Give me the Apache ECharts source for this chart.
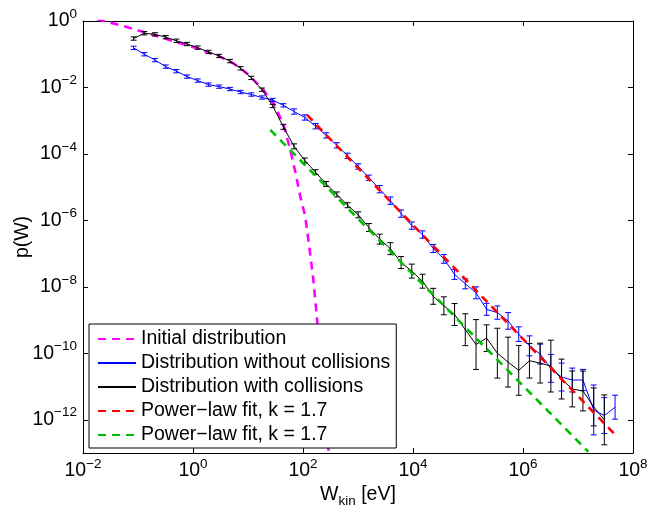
<!DOCTYPE html>
<html><head><meta charset="utf-8">
<script src="https://cdn.jsdelivr.net/npm/echarts@6/dist/echarts.min.js"></script>
<style>html,body{margin:0;padding:0;background:#fff}#c{width:649px;height:508px}</style>
</head><body><div id="c"></div>
<script>
// ---- data (W in eV, p(W) probability density) ----
const energyW = [0.0832, 0.130, 0.204, 0.319, 0.499, 0.780, 1.22, 1.91, 2.99, 4.69, 7.33, 11.5, 17.9, 28.1, 44.0, 68.8, 108, 169, 264, 413, 647, 1010, 1580, 2480, 3880, 6070, 9500, 14900, 23300, 36400, 57000, 89200, 1.40e5, 2.18e5, 3.42e5, 5.35e5, 8.37e5, 1.31e6, 2.05e6, 3.21e6, 5.02e6, 7.87e6, 1.23e7, 1.93e7, 3.01e7, 4.72e7];

const initW = [0.0102, 0.0288, 0.0724, 0.1675, 0.386, 1.10, 3.13, 5.41, 9.6, 18, 29.2, 44.4, 58.7, 72.4, 89.4, 110, 130, 154, 182, 224, 292];
const initP = [1.45, 0.933, 0.617, 0.407, 0.264, 0.157, 0.0832, 0.0532, 0.0265, 0.0094, 0.00334, 7.46e-4, 1.33e-4, 2.9e-5, 5.17e-6, 1.3e-6, 1.64e-7, 1.68e-8, 8.6e-10, 1.69e-11, 1.1e-13];

const noCollP = [0.155, 0.100, 0.0664, 0.0424, 0.0310, 0.0212, 0.0161, 0.0122, 0.0106, 0.00895, 0.00728, 0.00612, 0.00498, 0.00419, 0.00290, 0.00189, 0.00125, 6.82e-4, 3.61e-4, 1.81e-4, 8.77e-5, 4.19e-5, 1.92e-5, 8.68e-6, 3.93e-6, 1.60e-6, 6.98e-7, 3.75e-7, 1.43e-7, 6.92e-8, 2.37e-8, 1.23e-8, 6.61e-9, 2.11e-9, 1.68e-9, 9.44e-10, 3.77e-10, 1.68e-10, 9.46e-11, 3.52e-11, 1.93e-11, 1.57e-11, 1.57e-11, 1.98e-12, 1.34e-12, 2.39e-12];
// error bar half-widths in decades
const noCollErr = [0.05, 0.05, 0.05, 0.05, 0.05, 0.05, 0.05, 0.05, 0.05, 0.05, 0.05, 0.05, 0.05, 0.05, 0.05, 0.08, 0.08, 0.08, 0.08, 0.08, 0.08, 0.08, 0.08, 0.11, 0.11, 0.11, 0.11, 0.11, 0.12, 0.13, 0.15, 0.15, 0.18, 0.18, 0.2, 0.25, 0.22, 0.3, 0.3, 0.42, 0.42, 0.36, 0.32, 0.75, 0.54, 0.36];

const collP = [0.297, 0.428, 0.396, 0.327, 0.255, 0.203, 0.158, 0.117, 0.0887, 0.0623, 0.0377, 0.0194, 0.00859, 0.00277, 6.54e-4, 1.69e-4, 6.34e-5, 2.82e-5, 1.25e-5, 6.03e-6, 2.86e-6, 1.47e-6, 6.08e-7, 2.73e-7, 1.41e-7, 5.39e-8, 2.98e-8, 1.48e-8, 5.19e-9, 2.69e-9, 1.47e-9, 5.14e-10, 1.84e-10, 2.86e-10, 1.01e-10, 5.44e-11, 3.07e-11, 5.96e-11, 5.08e-11, 4.13e-11, 1.68e-11, 8.45e-12, 7.36e-12, 2.44e-12, 9.93e-13];
const collErr = [0.05, 0.05, 0.05, 0.05, 0.05, 0.05, 0.05, 0.05, 0.05, 0.05, 0.05, 0.05, 0.05, 0.05, 0.075, 0.075, 0.075, 0.075, 0.075, 0.075, 0.075, 0.09, 0.12, 0.15, 0.18, 0.18, 0.21, 0.21, 0.24, 0.27, 0.33, 0.48, 0.75, 0.4, 0.75, 0.75, 0.75, 0.52, 0.6, 0.78, 0.6, 0.54, 0.6, 0.57, 0.75];

const fitRedW = [118, 4.76e7];
const fitRedP = [1.49e-3, 3.52e-13];
const fitGreenW = [25.4, 1.54e7];
const fitGreenP = [5.28e-4, 1.09e-13];

const xTickExp = [-2, 0, 2, 4, 6, 8];
const yTickExp = [-12, -10, -8, -6, -4, -2, 0];

const legendLabels = {
  init: 'Initial distribution',
  noColl: 'Distribution without collisions',
  coll: 'Distribution with collisions',
  fitRed: 'Power\u2212law fit, k = 1.7',
  fitGreen: 'Power\u2212law fit, k = 1.7'
};

// ---- build ----
const L = Math.log10;
const pts = (W, P) => W.map((w, i) => [L(w), L(P[i])]);
const errPts = (W, P, E) => P.map((p, i) => [L(W[i]), L(p) - E[i], L(p) + E[i]]);

const FONT = 'Liberation Sans';
const expFmt = v => '{b|10}{s|' + (v < 0 ? '\u2212' + (-v) : v) + '}';
const labelRich = {
  b: { fontSize: 19.5, fontFamily: FONT, color: '#000' },
  s: { fontSize: 13.5, fontFamily: FONT, color: '#000', padding: [0, 0, 14, 0] }
};

function errRender(color) {
  return function (params, api) {
    const x = api.value(0), lo = api.value(1), hi = api.value(2);
    const a = api.coord([x, lo]), b = api.coord([x, hi]);
    const w = 3;
    const style = { stroke: color, lineWidth: 1 };
    return { type: 'group', children: [
      { type: 'line', shape: { x1: a[0], y1: a[1], x2: b[0], y2: b[1] }, style },
      { type: 'line', shape: { x1: a[0] - w, y1: a[1], x2: a[0] + w, y2: a[1] }, style },
      { type: 'line', shape: { x1: b[0] - w, y1: b[1], x2: b[0] + w, y2: b[1] }, style }
    ]};
  };
}

const axisLine = { show: true, onZero: false, lineStyle: { color: '#000', width: 1 } };
const axisTick = { show: true, inside: true, length: 5, lineStyle: { color: '#000', width: 1 } };

const chart = echarts.init(document.getElementById('c'), null, { renderer: 'canvas' });
chart.setOption({
  animation: false,
  backgroundColor: '#fff',
  grid: { left: 83, top: 21, right: 16, bottom: 55, containLabel: false, outerBoundsMode: 'none' },
  xAxis: [
    { type: 'value', min: -2, max: 8, interval: 2, position: 'bottom',
      axisLine, axisTick, splitLine: { show: false },
      axisLabel: { margin: 4, formatter: expFmt, rich: labelRich },
      name: '{n|W}{sub|kin}{n| [eV]}', nameLocation: 'middle', nameGap: 29, nameMoveOverlap: false,
      nameTextStyle: { rich: {
        n: { fontSize: 19.5, fontFamily: FONT, color: '#000' },
        sub: { fontSize: 13.5, fontFamily: FONT, color: '#000', padding: [12, 0, 0, 0] }
      } } },
    { type: 'value', min: -2, max: 8, interval: 2, position: 'top',
      axisLine, axisTick, splitLine: { show: false }, axisLabel: { show: false } }
  ],
  yAxis: [
    { type: 'value', min: -13, max: 0, position: 'left',
      axisLine, axisTick: Object.assign({ customValues: yTickExp }, axisTick), splitLine: { show: false },
      axisLabel: { margin: 6, customValues: yTickExp, formatter: expFmt, rich: labelRich },
      name: 'p(W)', nameLocation: 'middle', nameGap: 50, nameMoveOverlap: false,
      nameTextStyle: { fontSize: 19.5, fontFamily: FONT, color: '#000' } },
    { type: 'value', min: -13, max: 0, position: 'right',
      axisLine, axisTick: Object.assign({ customValues: yTickExp }, axisTick), splitLine: { show: false },
      axisLabel: { show: false } }
  ],
  legend: {
    orient: 'vertical', left: 89, top: 324,
    data: ['init', 'noColl', 'coll', 'fitRed', 'fitGreen'],
    formatter: n => legendLabels[n],
    itemWidth: 38, itemHeight: 13, itemGap: 4,
    padding: [5, 6, 3, 8],
    itemStyle: { opacity: 0, color: 'rgba(0,0,0,0)', borderWidth: 0 },
    backgroundColor: '#fff', borderColor: '#000', borderWidth: 1,
    textStyle: { fontSize: 19.5, fontFamily: FONT, color: '#000' }
  },
  series: [
    { name: 'init', type: 'line', symbol: 'none', data: pts(initW, initP),
      lineStyle: { color: '#ff00ff', width: 2.6, type: [8, 6] }, itemStyle: { color: '#ff00ff' }, z: 2 },
    { name: 'noColl', type: 'line', symbol: 'none', data: pts(energyW, noCollP),
      lineStyle: { color: '#0000ff', width: 1 }, itemStyle: { color: '#0000ff' }, z: 3 },
    { name: 'noCollErr', type: 'custom', renderItem: errRender('#0000ff'),
      data: errPts(energyW, noCollP, noCollErr), encode: { x: 0, y: [1, 2] }, z: 3 },
    { name: 'coll', type: 'line', symbol: 'none', data: pts(energyW.slice(0, collP.length), collP),
      lineStyle: { color: '#000', width: 1 }, itemStyle: { color: '#000' }, z: 4 },
    { name: 'collErr', type: 'custom', renderItem: errRender('#000'),
      data: errPts(energyW, collP, collErr), encode: { x: 0, y: [1, 2] }, z: 4 },
    { name: 'fitRed', type: 'line', symbol: 'none', data: pts(fitRedW, fitRedP),
      lineStyle: { color: '#ff0000', width: 2.6, type: [8, 6] }, itemStyle: { color: '#ff0000' }, z: 5 },
    { name: 'fitGreen', type: 'line', symbol: 'none', data: pts(fitGreenW, fitGreenP),
      lineStyle: { color: '#00bf00', width: 2.6, type: [8, 6] }, itemStyle: { color: '#00bf00' }, z: 5 }
  ]
});
</script>
</body></html>
